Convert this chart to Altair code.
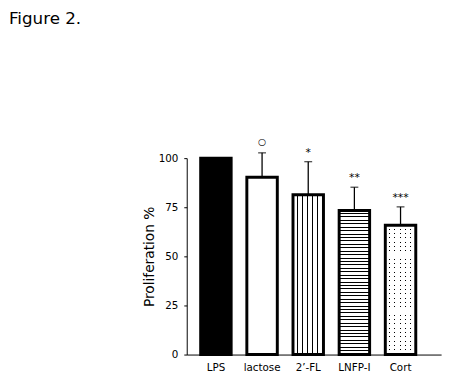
import altair as alt
import pandas as pd

# ---- data ----
categories = ["LPS", "lactose", "2’-FL", "LNFP-I", "Cort"]
means = [100, 90.3, 81.4, 73.3, 65.8]
errors = [0, 12.4, 16.8, 11.9, 9.4]
signif = ["", "○", "*", "**", "***"]
y_ticks = [0, 25, 50, 75, 100]
fig_title = "Figure 2."
y_title = "Proliferation %"

df = pd.DataFrame({"cat": categories, "mean": means, "err": errors, "sig": signif})
df["top"] = df["mean"] + df["err"]

FONT = "DejaVu Sans"


def stripes(n, frac, on, off, horizontal):
    stops = []
    for i in range(n):
        a = i / n
        b = (i + 1 - frac) / n
        c = (i + 1) / n
        stops += [alt.GradientStop(offset=a, color=off), alt.GradientStop(offset=b, color=off),
                  alt.GradientStop(offset=b, color=on), alt.GradientStop(offset=c, color=on)]
    if horizontal:
        return alt.LinearGradient(gradient="linear", stops=stops, x1=0, x2=1, y1=0, y2=0)
    return alt.LinearGradient(gradient="linear", stops=stops, x1=0, x2=0, y1=0, y2=1)


x_enc = alt.X("cat:N", sort=categories, title=None,
              scale=alt.Scale(paddingInner=0.34, paddingOuter=0.4255, align=0.355),
              axis=alt.Axis(labelAngle=0, ticks=False, labelPadding=8, labelFont=FONT,
                            labelFontSize=10.5, labelColor="black", domainColor="black",
                            domainWidth=1))
y_enc = alt.Y("mean:Q", scale=alt.Scale(domain=[0, 100], nice=False, zero=True),
              title=y_title,
              axis=alt.Axis(values=y_ticks, grid=False, tickSize=3, tickColor="black",
                            labelPadding=6, labelFont=FONT, labelFontSize=10.5,
                            labelColor="black", domainColor="black", titleFont=FONT,
                            titleFontSize=14, titleFontWeight="normal", titleColor="black",
                            titlePadding=2))

base = alt.Chart(df)


def bars(name, fill):
    return base.transform_filter(alt.datum.cat == name).mark_bar(fill=fill, strokeWidth=0).encode(x=x_enc, y=y_enc)


lps = bars("LPS", "black")
lac = bars("lactose", "white")
fl = bars("2’-FL", stripes(6, 0.19, "black", "white", True))
lnfp = bars("LNFP-I", stripes(42, 0.29, "black", "white", False))
cort_rows = bars("Cort", stripes(30, 0.22, "black", "white", False))
cort_cols = bars("Cort", stripes(6, 0.19, "rgba(255,255,255,0)", "white", True))

err_df = base.transform_filter(alt.datum.err > 0)
err_rule = err_df.mark_rule(color="black", strokeWidth=1.3).encode(
    x=x_enc, y=alt.Y("mean:Q"), y2="top:Q")
err_cap = err_df.mark_tick(color="black", thickness=1.3, size=8).encode(
    x=x_enc, y=alt.Y("top:Q"))

outline = base.mark_bar(fill="white", fillOpacity=0, stroke="black", strokeWidth=3).encode(
    x=x_enc, y=y_enc)

star_text = err_df.transform_filter(alt.datum.sig != "○").mark_text(
    font=FONT, fontSize=11, baseline="middle", dy=-9, fill="black").encode(
    x=x_enc, y=alt.Y("top:Q"), text="sig:N")
circ_text = err_df.transform_filter(alt.datum.sig == "○").mark_text(
    font=FONT, fontSize=9.5, baseline="middle", dy=-11, fill="black").encode(
    x=x_enc, y=alt.Y("top:Q"), text="sig:N")

title_df = pd.DataFrame({"t": [fig_title]})
title = alt.Chart(title_df).mark_text(font=FONT, fontSize=17, align="left", baseline="top",
                                      fill="black").encode(
    text="t:N", x=alt.value(-181), y=alt.value(-149.5))

chart = alt.layer(lps, lac, fl, lnfp, cort_rows, cort_cols, err_rule, err_cap, outline,
                  star_text, circ_text, title).properties(
    width=259, height=200,
    autosize=alt.AutoSizeParams(type="none"),
    padding={"left": 182, "top": 149.5, "right": 6, "bottom": 22},
    background="white",
).configure_view(strokeWidth=0, stroke="transparent")

chart.save("out.html", embed_options={"renderer": "svg", "actions": False})
